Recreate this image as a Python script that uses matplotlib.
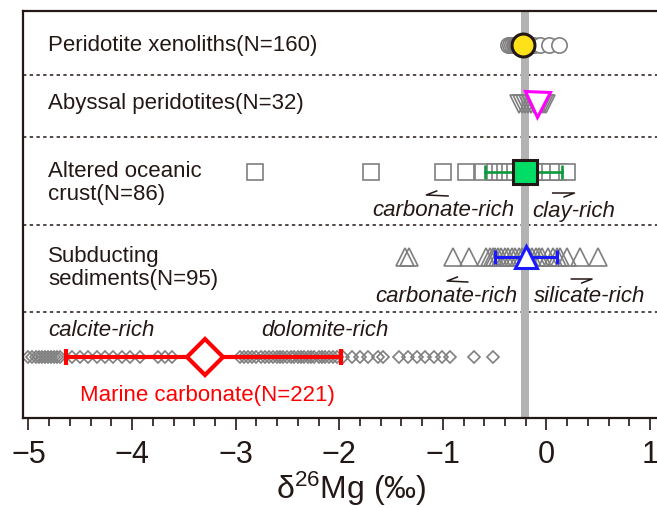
# d26Mg compilation plot: mantle vs. subducted materials
import matplotlib
matplotlib.use("Agg")
import matplotlib.pyplot as plt

plt.rcParams['font.family'] = ['Liberation Sans', 'DejaVu Sans']
plt.rcParams['mathtext.fontset'] = 'custom'
plt.rcParams['mathtext.rm'] = 'Liberation Sans'
plt.rcParams['mathtext.it'] = 'Liberation Sans:italic'

INK = '#231815'
GREY = '#7f7f7f'

#----------------- data (delta26Mg, permil)
xenolith_vals = [-0.37, -0.35, -0.33, -0.31, -0.30, -0.29, -0.28, -0.27, -0.26,
                 -0.25, -0.24, -0.23, -0.22, -0.21, -0.20, -0.19, -0.17, -0.15,
                 -0.12, -0.06, 0.02, 0.12]
xenolith_mean = -0.23

abyssal_vals = [-0.27, -0.24, -0.21, -0.18, -0.15, -0.12, -0.10, -0.08,
                -0.06, -0.04, -0.02, 0.00]
abyssal_mean = -0.09

crust_vals = [-2.81, -1.69, -1.00, -0.78, -0.61, -0.50, -0.45, -0.40, -0.35,
              -0.30, -0.25, -0.20, -0.15, -0.10, -0.05, 0.03, 0.11, 0.20]
crust_mean = -0.21
crust_range = (-0.59, 0.15)

sediment_vals = [-1.37, -1.33, -0.90, -0.75, -0.58, -0.55, -0.52, -0.50, -0.47,
                 -0.44, -0.40, -0.37, -0.33, -0.30, -0.27, -0.24, -0.20, -0.17,
                 -0.14, -0.10, -0.07, -0.04, 0.01, 0.06, 0.10, 0.13, 0.20,
                 0.32, 0.50]
sediment_mean = -0.20
sediment_range = (-0.50, 0.10)

carbonate_vals = [-5.00, -4.97, -4.93, -4.90, -4.87, -4.84, -4.81, -4.78, -4.75,
                  -4.72, -4.70, -4.58, -4.50, -4.43, -4.34, -4.26, -4.18, -4.10,
                  -4.02, -3.92, -3.75, -3.68, -3.61,
                  -2.96, -2.92, -2.88, -2.84, -2.80, -2.76, -2.72, -2.68, -2.64,
                  -2.60, -2.57, -2.54, -2.50, -2.47, -2.44, -2.40, -2.37, -2.34,
                  -2.30, -2.27, -2.24, -2.20, -2.17, -2.14, -2.10, -2.06, -2.02,
                  -1.96, -1.88, -1.80, -1.72, -1.63, -1.58,
                  -1.42, -1.34, -1.25, -1.17, -1.09, -1.01, -0.93,
                  -0.70, -0.52]
carbonate_mean = -3.30
carbonate_range = (-4.64, -1.98)

mantle_band = (-0.25, -0.165)

#----------------- layout (vertical positions in pixel-like units)
row_y = [45, 104, 172, 257, 357]
sep_y = [75, 137, 225, 312]

fig = plt.figure(figsize=(6.57, 5.08), dpi=100)
ax = fig.add_axes([23/657, 90/508, 1.0, 407/508])
ax.set_xlim(-5.053, -5.053 + 657/103.6)
ax.set_ylim(418, 11)

ax.axvspan(*mantle_band, color='#b3b3b3', lw=0, zorder=1)
for y in sep_y:
    ax.axhline(y, color=INK, lw=1.1, ls=(0, (2.2, 2.2)), zorder=0)

# individual samples
ax.plot(xenolith_vals, [row_y[0]]*len(xenolith_vals), 'o', ms=11, mfc='white',
        mec=GREY, mew=1.2, zorder=2)
ax.plot(abyssal_vals, [row_y[1]]*len(abyssal_vals), 'v', ms=12.5, mfc='none',
        mec=GREY, mew=1.2, zorder=2)
ax.plot(crust_vals, [row_y[2]]*len(crust_vals), 's', ms=12, mfc='white',
        mec=GREY, mew=1.2, zorder=2)
ax.plot(sediment_vals, [row_y[3]]*len(sediment_vals), '^', ms=12.5, mfc='none',
        mec=GREY, mew=1.2, zorder=2)
ax.plot(carbonate_vals, [row_y[4]]*len(carbonate_vals), 'D', ms=6.6, mfc='none',
        mec=GREY, mew=1.2, zorder=2)

# averages
ax.plot(xenolith_mean, row_y[0], 'o', ms=16.5, mfc='#ffe11a', mec=INK, mew=2.2, zorder=5)
ax.plot(abyssal_mean, row_y[1], 'v', ms=18, mfc='white', mec='#ff00ff', mew=2.2, zorder=5)

ax.plot(crust_range, [row_y[2]]*2, color='#0a9a3c', lw=1.9, zorder=4)
ax.plot(crust_range, [row_y[2]]*2, '|', ms=9.5, mew=1.9, color='#0a9a3c', zorder=4)
ax.plot(crust_mean, row_y[2], 's', ms=17, mfc='#00dd66', mec=INK, mew=2.2, zorder=5)

ax.plot(sediment_range, [row_y[3]]*2, color='#1a1aff', lw=2.2, zorder=4)
ax.plot(sediment_range, [row_y[3]]*2, '|', ms=10, mew=2.2, color='#1a1aff', zorder=4)
ax.plot(sediment_mean, row_y[3], '^', ms=16, mfc='white', mec='#1a1aff', mew=2.2, zorder=5)

ax.plot(carbonate_range, [row_y[4]]*2, color='#ff0000', lw=3, zorder=4)
ax.plot(carbonate_range, [row_y[4]]*2, '|', ms=12, mew=3, color='#ff0000', zorder=4)
ax.plot(carbonate_mean, row_y[4], 'D', ms=18.5, mfc='white', mec='#ff0000', mew=3, zorder=5)

#----------------- labels
lab_x = -4.81
fs = 16
ax.text(lab_x, 46, 'Peridotite xenoliths(N=160)', fontsize=fs, color=INK, va='center')
ax.text(lab_x, 104, 'Abyssal peridotites(N=32)', fontsize=fs, color=INK, va='center')
ax.text(lab_x, 183, 'Altered oceanic\ncrust(N=86)', fontsize=fs, color=INK,
        va='center', linespacing=1.08)
ax.text(lab_x, 268, 'Subducting\nsediments(N=95)', fontsize=fs, color=INK,
        va='center', linespacing=1.08)
ax.text(lab_x, 330, 'calcite-rich', fontsize=fs, color=INK, va='center', style='italic')
ax.text(-2.75, 330, 'dolomite-rich', fontsize=fs, color=INK, va='center', style='italic')
ax.text(-4.50, 395, 'Marine carbonate(N=221)', fontsize=fs, color='#ff0000', va='center')

ax.text(-1.00, 211, 'carbonate-rich', fontsize=fs, color=INK, va='center',
        ha='center', style='italic', zorder=6)
ax.text(0.26, 211, 'clay-rich', fontsize=fs, color=INK, va='center',
        ha='center', style='italic', zorder=6)
ax.text(-0.97, 297, 'carbonate-rich', fontsize=fs, color=INK, va='center',
        ha='center', style='italic', zorder=6)
ax.text(0.42, 297, 'silicate-rich', fontsize=fs, color=INK, va='center',
        ha='center', style='italic', zorder=6)


def half_arrow(x0, x1, y, left=True):
    # small harpoon-style arrow under a row
    if left:
        ax.plot([x0 + 0.10, x0, x1], [y - 4, y, y + 1], color=INK, lw=1.1, zorder=6)
    else:
        ax.plot([x0, x1, x1 - 0.10], [y, y, y + 4], color=INK, lw=1.1, zorder=6)


half_arrow(-1.16, -0.95, 195)
half_arrow(0.06, 0.27, 193, left=False)
half_arrow(-0.96, -0.76, 281)
half_arrow(0.24, 0.44, 279, left=False)

#----------------- axes styling
ax.spines['right'].set_visible(False)
for s in ['left', 'top', 'bottom']:
    ax.spines[s].set_linewidth(1.6)
    ax.spines[s].set_color(INK)
ax.set_yticks([])
ax.set_xticks(range(-5, 2))
ax.set_xticks([v / 5 for v in range(-25, 6)], minor=True)
ax.tick_params(axis='x', which='major', direction='out', length=8.5, width=1.2,
               color=INK, labelsize=22, labelcolor=INK, pad=7)
ax.tick_params(axis='x', which='minor', direction='out', length=6, width=1.2, color=INK)
ax.set_xlabel(r'δ$^{26}$Mg (‰)', fontsize=23, color=INK, labelpad=0)

fig.savefig('out.png', dpi=100)
